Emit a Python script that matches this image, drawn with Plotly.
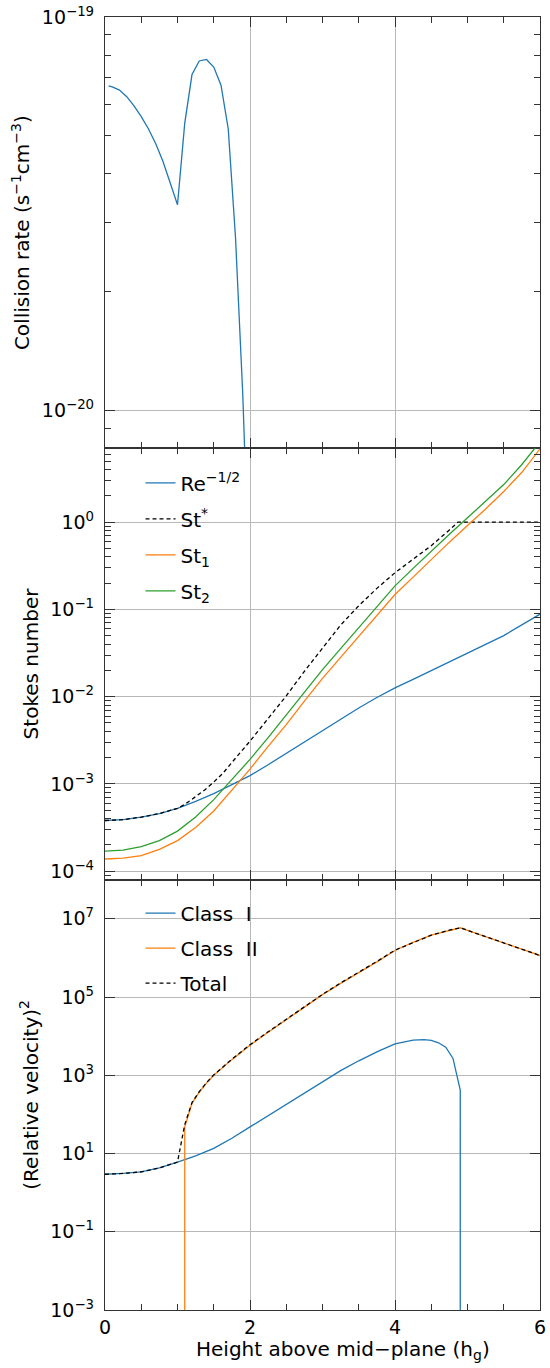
import math
import plotly.graph_objects as go

# ---------------- data ----------------
# Panel 1: collision rate
coll_x = [0.05, 0.1, 0.2, 0.3, 0.4, 0.5, 0.6, 0.7, 0.8, 0.9, 1.0,
          1.1, 1.2, 1.3, 1.4, 1.5, 1.6, 1.7, 1.8, 1.9, 2.0]
coll_rate = [6.68e-20, 6.64e-20, 6.52e-20, 6.27e-20, 5.94e-20, 5.58e-20, 5.19e-20,
             4.76e-20, 4.29e-20, 3.80e-20, 3.33e-20, 5.37e-20, 7.14e-20, 7.73e-20,
             7.80e-20, 7.46e-20, 6.71e-20, 5.19e-20, 2.75e-20, 1.10e-20, 3.16e-21]

# Panel 2: Stokes numbers
st_x = [0.0, 0.25, 0.5, 0.75, 1.0, 1.25, 1.5, 1.75, 2.0, 2.25, 2.5, 2.75, 3.0,
        3.25, 3.5, 3.75, 4.0, 4.25, 4.5, 4.75, 5.0, 5.25, 5.5, 5.75, 6.0]
re_inv_sqrt = [3.81e-4, 3.89e-4, 4.17e-4, 4.57e-4, 5.25e-4, 6.31e-4, 7.76e-4, 9.77e-4,
               1.245e-3, 1.66e-3, 2.24e-3, 3.02e-3, 4.07e-3, 5.50e-3, 7.41e-3, 9.77e-3,
               1.26e-2, 1.58e-2, 2.00e-2, 2.51e-2, 3.16e-2, 3.98e-2, 5.01e-2, 6.61e-2, 8.81e-2]
st1 = [1.38e-4, 1.41e-4, 1.51e-4, 1.78e-4, 2.24e-4, 3.16e-4, 4.90e-4, 8.51e-4,
       1.48e-3, 2.69e-3, 4.79e-3, 8.91e-3, 1.62e-2, 2.82e-2, 4.90e-2, 8.51e-2,
       0.148, 0.234, 0.372, 0.589, 0.912, 1.41, 2.24, 3.72, 6.92]
st2 = [1.70e-4, 1.74e-4, 1.91e-4, 2.24e-4, 2.88e-4, 4.17e-4, 6.61e-4, 1.12e-3,
       1.91e-3, 3.39e-3, 6.17e-3, 1.15e-2, 2.04e-2, 3.55e-2, 6.17e-2, 0.107,
       0.186, 0.295, 0.468, 0.724, 1.12, 1.74, 2.69, 4.57, 8.32]
ststar_x = [0.0, 0.25, 0.5, 0.75, 1.0, 1.1, 1.25, 1.375, 1.5, 1.625, 1.75, 2.0, 2.25,
            2.5, 2.75, 3.0, 3.25, 3.5, 3.75, 4.0, 4.25, 4.5, 4.75, 4.87, 5.0, 5.5, 6.0]
st_star = [3.81e-4, 3.89e-4, 4.17e-4, 4.57e-4, 5.25e-4, 5.82e-4, 7.16e-4, 8.51e-4,
           1.05e-3, 1.32e-3, 1.76e-3, 3.09e-3, 5.62e-3, 1.02e-2, 1.95e-2, 3.63e-2,
           6.61e-2, 0.110, 0.174, 0.263, 0.380, 0.537, 0.813, 1.0, 1.0, 1.0, 1.0]

# Panel 3: squared relative velocity
c1_x = [0.0, 0.25, 0.5, 0.75, 1.0, 1.25, 1.5, 1.75, 2.0, 2.25, 2.5, 2.75, 3.0,
        3.25, 3.5, 3.75, 4.0, 4.25, 4.4, 4.5, 4.6, 4.7, 4.8, 4.9, 4.9]
class1 = [2.95, 3.09, 3.39, 4.27, 6.03, 8.71, 13.5, 24.5, 47.9, 93.3, 182, 355, 708,
          1318, 2344, 3981, 6310, 7943, 8128, 7762, 6761, 5248, 2692, 417, 1e-6]
c2_x = [1.1, 1.1, 1.2, 1.3, 1.4, 1.5, 1.75, 2.0, 2.25, 2.5, 2.75, 3.0, 3.25, 3.5,
        3.75, 4.0, 4.25, 4.5, 4.75, 4.9, 5.0, 5.25, 5.5, 5.75, 6.0]
class2 = [1e-6, 47.9, 191, 372, 631, 1000, 2512, 5888, 1.26e4, 2.63e4, 5.62e4, 1.15e5,
          2.24e5, 4.17e5, 7.94e5, 1.55e6, 2.51e6, 3.80e6, 5.13e6, 5.89e6, 5.07e6,
          3.47e6, 2.40e6, 1.66e6, 1.15e6]
tot_x = [0.0, 0.25, 0.5, 0.75, 1.0, 1.1, 1.2, 1.3, 1.4, 1.5, 1.75, 2.0, 2.25, 2.5,
         2.75, 3.0, 3.25, 3.5, 3.75, 4.0, 4.25, 4.5, 4.75, 4.9, 5.0, 5.25, 5.5, 5.75, 6.0]
total = [2.95, 3.09, 3.39, 4.27, 6.03, 55.0, 200, 380, 646, 1023, 2570, 6026, 1.29e4,
         2.69e4, 5.75e4, 1.17e5, 2.29e5, 4.27e5, 8.13e5, 1.58e6, 2.51e6, 3.80e6,
         5.13e6, 5.89e6, 5.07e6, 3.47e6, 2.40e6, 1.66e6, 1.15e6]

# tick definitions
x_major = [0, 2, 4, 6]
x_minor = [0.5, 1, 1.5, 2.5, 3, 3.5, 4.5, 5, 5.5]
y1_major = [1e-20, 1e-19]
y1_labels = ["10<sup>−20</sup>", "10<sup>−19</sup>"]
y1_minor = [8e-21, 9e-21] + [k * 1e-20 for k in range(2, 10)]
y2_major = [1e-4, 1e-3, 1e-2, 1e-1, 1e0]
y2_labels = ["10<sup>−4</sup>", "10<sup>−3</sup>", "10<sup>−2</sup>", "10<sup>−1</sup>", "10<sup>0</sup>"]
y2_minor = [k * 10.0 ** e for e in range(-5, 1) for k in range(2, 10)]
y3_major = [1e-3, 1e-1, 1e1, 1e3, 1e5, 1e7]
y3_labels = ["10<sup>−3</sup>", "10<sup>−1</sup>", "10<sup>1</sup>", "10<sup>3</sup>", "10<sup>5</sup>", "10<sup>7</sup>"]

BLUE, ORANGE, GREEN = "#1f77b4", "#ff7f0e", "#2ca02c"
FONT = "DejaVu Sans"
LW = 1.3
AX = "#333333"
GRID = "#b8b8b8"

fig = go.Figure()

fig.add_trace(go.Scatter(x=coll_x, y=coll_rate, mode="lines", line=dict(color=BLUE, width=LW),
                         xaxis="x", yaxis="y", showlegend=False))

fig.add_trace(go.Scatter(x=st_x, y=re_inv_sqrt, mode="lines", name="Re<sup>−1/2</sup>",
                         line=dict(color=BLUE, width=LW), xaxis="x2", yaxis="y2",
                         legend="legend", legendgroup="a"))
fig.add_trace(go.Scatter(x=ststar_x, y=st_star, mode="lines", name="St<sup>*</sup>",
                         line=dict(color="black", width=LW, dash="4px,3px"), xaxis="x2", yaxis="y2",
                         legend="legend", legendgroup="b"))
fig.add_trace(go.Scatter(x=st_x, y=st1, mode="lines", name="St<sub>1</sub>",
                         line=dict(color=ORANGE, width=LW), xaxis="x2", yaxis="y2",
                         legend="legend", legendgroup="c"))
fig.add_trace(go.Scatter(x=st_x, y=st2, mode="lines", name="St<sub>2</sub>",
                         line=dict(color=GREEN, width=LW), xaxis="x2", yaxis="y2",
                         legend="legend", legendgroup="d"))

fig.add_trace(go.Scatter(x=c1_x, y=class1, mode="lines", name="Class  I",
                         line=dict(color=BLUE, width=LW), xaxis="x3", yaxis="y3",
                         legend="legend2", legendgroup="e"))
fig.add_trace(go.Scatter(x=c2_x, y=class2, mode="lines", name="Class  II",
                         line=dict(color=ORANGE, width=LW), xaxis="x3", yaxis="y3",
                         legend="legend2", legendgroup="f"))
fig.add_trace(go.Scatter(x=tot_x, y=total, mode="lines", name="Total",
                         line=dict(color="black", width=LW, dash="4px,3px"), xaxis="x3", yaxis="y3",
                         legend="legend2", legendgroup="g"))

H_PLOT = 1295.0
def py(px):
    return (1310.0 - px) / H_PLOT

d3 = [0.0, py(879)]
d2 = [py(879), py(447)]
d1 = [py(447), 1.0]

def xax(anchor, show_labels):
    return dict(range=[0, 6], anchor=anchor, domain=[0, 1], showline=True, linecolor=AX, linewidth=1,
                mirror="ticks", ticks="inside", ticklen=10, tickwidth=1.3, tickcolor=AX,
                tickmode="array", tickvals=x_major, showticklabels=show_labels,
                showgrid=True, gridcolor=GRID, gridwidth=1.2, zeroline=False,
                minor=dict(tickmode="array", tickvals=x_minor, ticks="inside", ticklen=6,
                           tickwidth=1.3, tickcolor=AX, showgrid=False),
                tickfont=dict(family=FONT, size=19, color="black"), ticklabelstandoff=0,
                ticklabeloverflow="allow")

def yax(anchor, dom, rng, tv, tt, minor_vals, title, standoff):
    d = dict(type="log", range=rng, anchor=anchor, domain=dom, showline=True, linecolor=AX, linewidth=1.3,
             mirror="ticks", ticks="inside", ticklen=10, tickwidth=1.3, tickcolor=AX,
             tickmode="array", tickvals=tv, ticktext=tt,
             showgrid=True, gridcolor=GRID, gridwidth=1.2, zeroline=False,
             tickfont=dict(family=FONT, size=19, color="black"), ticklabelstandoff=6,
             title=dict(text=title, font=dict(family=FONT, size=20, color="black"), standoff=standoff))
    if minor_vals:
        d["minor"] = dict(tickmode="array", tickvals=minor_vals, ticks="inside", ticklen=6,
                          tickwidth=1.3, tickcolor=AX, showgrid=False)
    return d

fig.update_layout(
    width=550, height=1368,
    margin=dict(l=105, r=4, t=15, b=58),
    paper_bgcolor="white", plot_bgcolor="white",
    font=dict(family=FONT, size=19, color="black"),
    xaxis=xax("y", False),
    xaxis2=dict(xax("y2", False), matches="x"),
    xaxis3=dict(xax("y3", True), matches="x"),
    yaxis=yax("x", d1, [math.log10(8e-21), -19], y1_major, y1_labels, y1_minor,
              "Collision rate (s<sup>−1</sup>cm<sup>−3</sup>)", 6),
    yaxis2=yax("x2", d2, [math.log10(8e-5), math.log10(7)], y2_major, y2_labels, y2_minor,
               "Stokes number", 6),
    yaxis3=yax("x3", d3, [-3, 8], y3_major, y3_labels, None,
               "(Relative velocity)<sup>2</sup>", 6),
    legend=dict(x=(141 - 105) / 441, y=py(462), xanchor="left", yanchor="top",
                bgcolor="rgba(0,0,0,0)", borderwidth=0, tracegroupgap=7,
                font=dict(family=FONT, size=20, color="black")),
    legend2=dict(x=(141 - 105) / 441, y=py(893), xanchor="left", yanchor="top",
                 bgcolor="rgba(0,0,0,0)", borderwidth=0, tracegroupgap=6,
                 font=dict(family=FONT, size=20, color="black")),
    annotations=[dict(text="Height above mid−plane (h<sub>g</sub>)", xref="paper", yref="paper",
                      x=(346 - 105) / 441, y=py(1350), xanchor="center", yanchor="middle",
                      showarrow=False, font=dict(family=FONT, size=20, color="black"))],
)

fig.write_html("out.html")
